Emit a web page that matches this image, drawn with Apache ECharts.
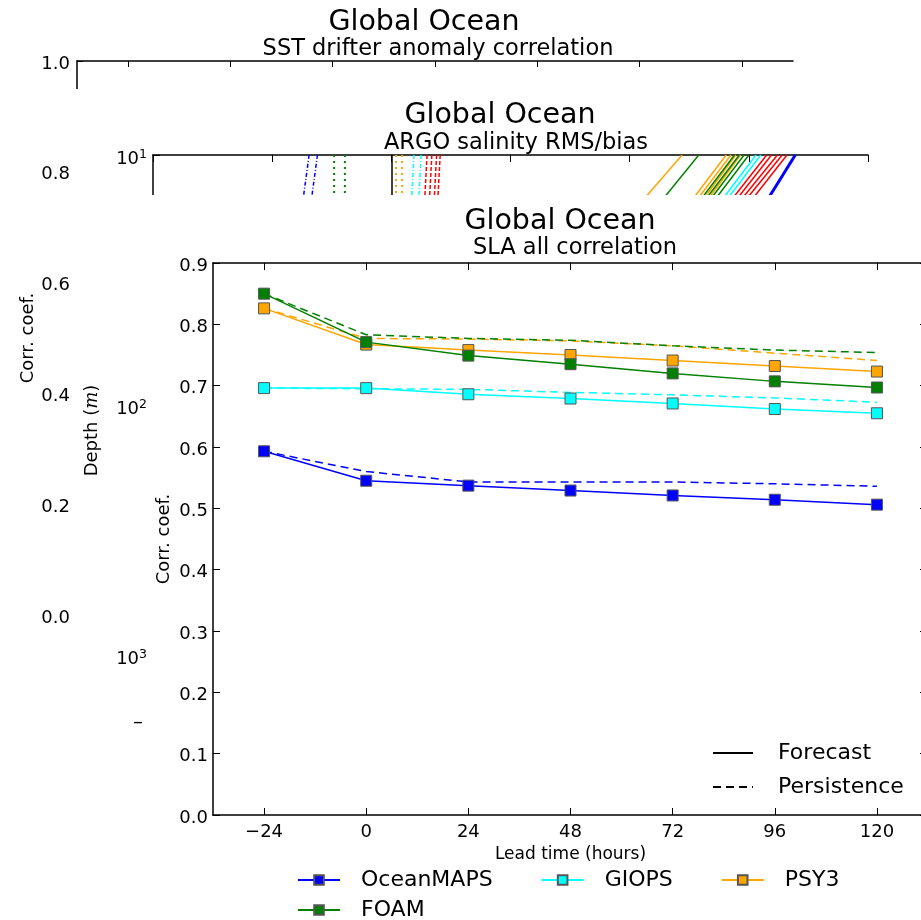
<!DOCTYPE html>
<html>
<head>
<meta charset="utf-8">
<script src="https://cdn.jsdelivr.net/npm/echarts@6/dist/echarts.min.js"></script>
<style>
  html, body { margin: 0; padding: 0; background: #fff; }
  #fig1 { position: absolute; left: 0; top: 0; width: 921px; height: 920px; }
  #fig2 { position: absolute; left: 74px; top: 89px; width: 847px; height: 831px; background: #fff; }
  #fig3 { position: absolute; left: 150px; top: 195px; width: 771px; height: 725px; background: #fff; }
</style>
</head>
<body>
<div id="fig1"></div>
<div id="fig2"></div>
<div id="fig3"></div>
<script>
// lead times (hours) and tick values
const leadTimes = [-24, 0, 24, 48, 72, 96, 120]
const leadTicks = [-24, 0, 24, 48, 72, 96, 120]

// SLA all correlation - forecast / persistence
const oceanmapsForecast = [0.593, 0.545, 0.537, 0.529, 0.521, 0.514, 0.506]
const oceanmapsPersistence = [0.593, 0.560, 0.543, 0.543, 0.543, 0.540, 0.536]
const giopsForecast = [0.696, 0.696, 0.686, 0.679, 0.671, 0.662, 0.655]
const giopsPersistence = [0.696, 0.695, 0.694, 0.689, 0.685, 0.680, 0.673]
const psy3Forecast = [0.826, 0.767, 0.758, 0.750, 0.741, 0.732, 0.723]
const psy3Persistence = [0.826, 0.777, 0.776, 0.773, 0.765, 0.753, 0.741]
const foamForecast = [0.850, 0.771, 0.749, 0.735, 0.720, 0.707, 0.697]
const foamPersistence = [0.850, 0.783, 0.777, 0.774, 0.765, 0.758, 0.754]

// ARGO salinity profiles (only the top few metres are visible)
const argoDepths = [10, 15]
const biasOceanMAPS = [[-0.069, -0.074], [-0.062, -0.067]]
const biasFOAM = [[-0.048, -0.048], [-0.039, -0.039]]
const biasPSY3 = [[0.004, 0.004], [0.009, 0.009]]
const biasGIOPS = [[0.019, 0.017], [0.025, 0.023]]
const biasOther = [[0.030, 0.028], [0.034, 0.032], [0.038, 0.036], [0.041, 0.039]]
const rmsPSY3 = [[0.244, 0.212], [0.281, 0.253], [0.285, 0.257], [0.289, 0.262], [0.293, 0.266]]
const rmsFOAM = [[0.258, 0.228], [0.288, 0.260], [0.292, 0.264], [0.296, 0.268], [0.300, 0.272]]
const rmsGIOPS = [[0.306, 0.278], [0.310, 0.282]]
const rmsOther = [[0.315, 0.286], [0.319, 0.290], [0.324, 0.294], [0.328, 0.298], [0.332, 0.303]]
const rmsOceanMAPS = [[0.339, 0.316]]

const FONT = 'DejaVu Sans'
const C = { blue: '#0000ff', cyan: '#00ffff', orange: '#ffa500', green: '#008000', red: '#ff0000' }

const spine = { show: true, onZero: false, lineStyle: { color: '#000', width: 1.5 } }
const tickIn = (len, values) => {
  const t = { show: true, inside: true, length: len, lineStyle: { color: '#000', width: 1 } }
  if (values) t.customValues = values
  return t
}
const txt = (x, y, text, size, extra) => ({
  type: 'text', x, y,
  style: Object.assign({ text, fontFamily: FONT, fontSize: size, fill: '#000', align: 'center', verticalAlign: 'middle' }, extra || {})
})
// y tick labels sit a little below their tick, as in the original
const decLabel = (margin) => ({
  margin,
  formatter: (v) => '{d|' + v.toFixed(1) + '}',
  rich: { d: { fontSize: 18, color: '#000', fontFamily: FONT, padding: [6, 0, 0, 0] } },
})

// ---------- figure 1 (SST drifter, mostly hidden) ----------
const fig1 = echarts.init(document.getElementById('fig1'))
fig1.setOption({
  animation: false,
  textStyle: { fontFamily: FONT },
  graphic: [
    txt(424, 23, 'Global Ocean', 28.5),
    txt(438, 49, 'SST drifter anomaly correlation', 22.5),
  ],
  grid: { left: 77, top: 61, width: 716, height: 554, outerBoundsMode: 'none' },
  xAxis: {
    type: 'value', position: 'top', min: -36, max: 132,
    axisLine: spine, axisTick: tickIn(6, leadTicks), axisLabel: { show: false }, splitLine: { show: false },
  },
  yAxis: {
    type: 'value', min: 0, max: 1, interval: 0.2,
    axisLine: spine, axisTick: tickIn(6),
    axisLabel: decLabel(7),
    splitLine: { show: false },
    name: 'Corr. coef.', nameLocation: 'middle', nameGap: 40, nameMoveOverlap: false,
    nameTextStyle: { fontSize: 18, color: '#000' },
  },
  series: [],
})

// ---------- figure 2 (ARGO salinity RMS/bias, mostly hidden) ----------
const fig2 = echarts.init(document.getElementById('fig2'))
const profileSeries = (profiles, color, type, width) => profiles.map((p) => ({
  type: 'line',
  data: p.map((x, i) => [x, argoDepths[i]]),
  showSymbol: false,
  lineStyle: { color, type, width },
}))
fig2.setOption({
  animation: false,
  textStyle: { fontFamily: FONT },
  graphic: [
    txt(426, 27, 'Global Ocean', 28.5),
    txt(442, 54, 'ARGO salinity RMS/bias', 22.5),
    txt(64, 634, '\u2013', 20),
  ],
  grid: { left: 79, top: 66, width: 715, height: 551, outerBoundsMode: 'none' },
  xAxis: {
    type: 'value', position: 'top', min: -0.2, max: 0.4, interval: 0.1,
    axisLine: spine, axisTick: tickIn(7), axisLabel: { show: false }, splitLine: { show: false },
  },
  yAxis: {
    type: 'log', logBase: 10, inverse: true, min: 10, max: 1600,
    axisLine: spine, axisTick: tickIn(7), splitLine: { show: false },
    axisLabel: {
      margin: 6, padding: [8, 0, 0, 0],
      formatter: (v) => {
        const e = Math.log10(v)
        if (Math.abs(e - Math.round(e)) > 1e-6) return ''
        return '{b|10}{s|' + Math.round(e) + '}'
      },
      rich: {
        b: { fontSize: 18, color: '#000', fontFamily: FONT },
        s: { fontSize: 12.5, color: '#000', fontFamily: FONT, verticalAlign: 'top', padding: [0, 0, 9, 0] },
      },
    },
    name: 'Depth ({i|m})', nameLocation: 'middle', nameGap: 52, nameMoveOverlap: false,
    nameTextStyle: {
      fontSize: 18, color: '#000',
      rich: { i: { fontSize: 18, fontStyle: 'italic', fontFamily: 'DejaVu Serif', color: '#000' } },
    },
  },
  series: [
    {
      type: 'line', data: [], markLine: {
        silent: true, symbol: 'none', label: { show: false },
        lineStyle: { color: '#000', type: 'solid', width: 1.5 },
        data: [{ xAxis: 0 }],
      },
    },
    ...profileSeries(biasOceanMAPS, C.blue, [4, 2, 1, 2], 1.5),
    ...profileSeries(biasFOAM, C.green, [2, 4], 2),
    ...profileSeries(biasPSY3, C.orange, [2, 4], 2),
    ...profileSeries(biasGIOPS, C.cyan, [4, 2, 1, 2], 1.5),
    ...profileSeries(biasOther, C.red, [4, 2], 1.5),
    ...profileSeries(rmsPSY3, C.orange, 'solid', 1.5),
    ...profileSeries(rmsFOAM, C.green, 'solid', 1.5),
    ...profileSeries(rmsGIOPS, C.cyan, 'solid', 1.5),
    ...profileSeries(rmsOther, C.red, 'solid', 1.5),
    ...profileSeries(rmsOceanMAPS, C.blue, 'solid', 3),
  ],
})

// ---------- figure 3 (SLA all correlation) ----------
const fig3 = echarts.init(document.getElementById('fig3'))
const pairs = (vals) => leadTimes.map((t, i) => [t, vals[i]])
const models = [
  { name: 'OceanMAPS', color: C.blue, fc: oceanmapsForecast, ps: oceanmapsPersistence },
  { name: 'GIOPS', color: C.cyan, fc: giopsForecast, ps: giopsPersistence },
  { name: 'PSY3', color: C.orange, fc: psy3Forecast, ps: psy3Persistence },
  { name: 'FOAM', color: C.green, fc: foamForecast, ps: foamPersistence },
]
const slaSeries = []
models.forEach((m) => {
  slaSeries.push({
    name: m.name + ' persistence', type: 'line', data: pairs(m.ps), showSymbol: false,
    lineStyle: { color: m.color, width: 1.5, type: [8, 5] }, z: 2,
  })
})
models.forEach((m) => {
  slaSeries.push({
    name: m.name, type: 'line', data: pairs(m.fc),
    symbol: 'rect', symbolSize: 11,
    itemStyle: { color: m.color, borderColor: '#555', borderWidth: 1 },
    lineStyle: { color: m.color, width: 1.5 }, z: 3,
  })
})
slaSeries.push(
  { name: 'Forecast', type: 'line', data: [], symbol: 'none', itemStyle: { color: '#000' }, lineStyle: { color: '#000', width: 1.5 } },
  { name: 'Persistence', type: 'line', data: [], symbol: 'none', itemStyle: { color: '#000' }, lineStyle: { color: '#000', width: 1.5, type: [8, 5] } },
)

const legendBase = {
  padding: 0, itemHeight: 12,
  textStyle: { fontSize: 22, color: '#000', fontFamily: FONT },
  selectedMode: false,
}
fig3.setOption({
  animation: false,
  textStyle: { fontFamily: FONT },
  graphic: [
    txt(410, 27, 'Global Ocean', 28.5),
    txt(425, 53, 'SLA all correlation', 22.5),
  ],
  legend: [
    Object.assign({}, legendBase, {
      data: [
        { name: 'Forecast', itemStyle: { opacity: 0 } },
        { name: 'Persistence', itemStyle: { opacity: 0 } },
      ],
      orient: 'vertical', left: 562, top: 547,
      itemWidth: 40, itemGap: 12,
      textStyle: Object.assign({}, legendBase.textStyle, { padding: [0, 0, 0, 20] }),
    }),
    Object.assign({}, legendBase, {
      data: ['OceanMAPS', 'GIOPS', 'PSY3'], orient: 'horizontal', left: 147, top: 674,
      itemWidth: 42, itemGap: 48,
      textStyle: Object.assign({}, legendBase.textStyle, { padding: [0, 0, 0, 16] }),
    }),
    Object.assign({}, legendBase, {
      data: ['FOAM'], orient: 'horizontal', left: 147, top: 704,
      itemWidth: 42,
      textStyle: Object.assign({}, legendBase.textStyle, { padding: [0, 0, 0, 16] }),
    }),
  ],
  grid: { left: 63, top: 68, width: 715, height: 552, outerBoundsMode: 'none' },
  xAxis: [
    {
      type: 'value', position: 'bottom', min: -36, max: 132,
      axisLine: spine, axisTick: tickIn(7, leadTicks), splitLine: { show: false },
      axisLabel: {
        customValues: leadTicks, fontSize: 18, color: '#000', margin: 8,
        formatter: (v) => (v < 0 ? '\u2212' + Math.abs(v) : String(v)),
      },
      name: 'Lead time (hours)', nameLocation: 'middle', nameGap: 31, nameMoveOverlap: false,
      nameTextStyle: { fontSize: 17, color: '#000' },
    },
    {
      type: 'value', position: 'top', min: -36, max: 132,
      axisLine: spine, axisTick: tickIn(7, leadTicks), axisLabel: { show: false }, splitLine: { show: false },
    },
  ],
  yAxis: [
    {
      type: 'value', position: 'left', min: 0, max: 0.9, interval: 0.1,
      axisLine: spine, axisTick: tickIn(7), splitLine: { show: false },
      axisLabel: decLabel(5),
      name: 'Corr. coef.', nameLocation: 'middle', nameGap: 40, nameMoveOverlap: false,
      nameTextStyle: { fontSize: 18, color: '#000' },
    },
    {
      type: 'value', position: 'right', min: 0, max: 0.9, interval: 0.1,
      axisLine: spine, axisTick: tickIn(8), axisLabel: { show: false }, splitLine: { show: false },
    },
  ],
  series: slaSeries,
})
</script>
</body>
</html>
